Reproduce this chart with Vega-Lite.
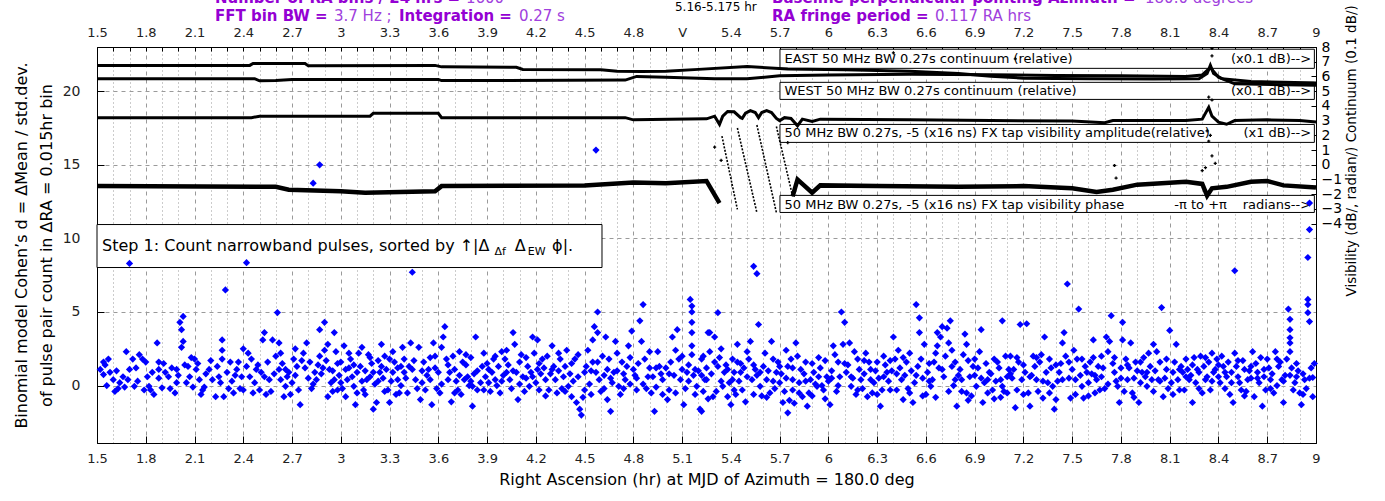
{
"$schema":"https://vega.github.io/schema/vega-lite/v6.json",
"width":1219,"height":396,
"autosize":{"type":"none"},
"padding":{"left":97,"top":47,"right":69,"bottom":58},
"background":"white",
"config":{"view":{"stroke":"#000","strokeWidth":1},"font":"DejaVu Sans","axis":{"labelFont":"DejaVu Sans","titleFont":"DejaVu Sans","domainColor":"#000","tickColor":"#000","labelColor":"#222","titleColor":"#000","titleFontWeight":"normal","labelFlush":false,"labelOverlap":false}},
"datasets":{
"blue":[{"x":1.54,"y":1.6},{"x":1.52,"y":1.1},{"x":1.54,"y":0.75},{"x":1.55,"y":1.4},{"x":1.56,"y":0},{"x":1.61,"y":-0.4},{"x":1.6,"y":0.4},{"x":1.64,"y":0.2},{"x":1.66,"y":0.6},{"x":1.67,"y":-0.1},{"x":1.68,"y":2.3},{"x":1.72,"y":1.8},{"x":1.7,"y":1.1},{"x":1.73,"y":-0.05},{"x":1.76,"y":2.1},{"x":1.78,"y":1.8},{"x":1.8,"y":1.6},{"x":1.81,"y":0.6},{"x":1.82,"y":-0.05},{"x":1.83,"y":-0.3},{"x":1.85,"y":-0.6},{"x":1.87,"y":2.9},{"x":1.88,"y":1.6},{"x":1.88,"y":1.1},{"x":1.88,"y":0.5},{"x":1.9,"y":-0.15},{"x":1.94,"y":0.6},{"x":1.96,"y":1.2},{"x":1.99,"y":1.1},{"x":1.99,"y":0.2},{"x":1.98,"y":-0.5},{"x":2.01,"y":4.3},{"x":2.03,"y":4.7},{"x":2.02,"y":3.8},{"x":2.03,"y":3.0},{"x":2.02,"y":2.6},{"x":2.04,"y":1.4},{"x":2.06,"y":1.3},{"x":2.07,"y":0.6},{"x":2.09,"y":-0.1},{"x":2.1,"y":1.8},{"x":2.11,"y":1.1},{"x":2.13,"y":0.4},{"x":2.14,"y":-0.6},{"x":2.15,"y":-0.3},{"x":2.19,"y":1.1},{"x":2.21,"y":0.4},{"x":2.23,"y":-0.75},{"x":2.25,"y":0.6},{"x":2.27,"y":3.1},{"x":2.27,"y":2.4},{"x":2.27,"y":1.8},{"x":2.28,"y":-0.75},{"x":2.29,"y":6.5},{"x":2.3,"y":0.9},{"x":2.32,"y":1.6},{"x":2.33,"y":0.3},{"x":2.34,"y":-0.5},{"x":2.36,"y":1.1},{"x":2.37,"y":1.6},{"x":2.39,"y":0.6},{"x":2.4,"y":-0.3},{"x":2.4,"y":2.5},{"x":2.42,"y":1.3},{"x":2.44,"y":0.6},{"x":2.47,"y":0.2},{"x":2.48,"y":1.1},{"x":2.5,"y":-0.3},{"x":2.53,"y":3.6},{"x":2.52,"y":3.1},{"x":2.53,"y":0.6},{"x":2.55,"y":1.6},{"x":2.56,"y":0.4},{"x":2.58,"y":3.1},{"x":2.61,"y":4.96},{"x":2.6,"y":2.0},{"x":2.62,"y":2.9},{"x":2.62,"y":1.1},{"x":2.63,"y":0.4},{"x":2.65,"y":-0.75},{"x":2.66,"y":-0.05},{"x":2.68,"y":0.9},{"x":2.69,"y":-0.6},{"x":2.71,"y":1.8},{"x":2.73,"y":1.3},{"x":2.74,"y":-0.3},{"x":2.75,"y":-1.3},
{"x":1.58,"y":0.9},{"x":1.63,"y":-0.2},{"x":1.75,"y":0.3},{"x":1.92,"y":0.9},{"x":2.05,"y":0.2},{"x":2.17,"y":0.8},{"x":2.24,"y":1.3},{"x":2.31,"y":-0.2},{"x":2.35,"y":0.7},{"x":2.45,"y":1.8},{"x":2.51,"y":0.9},{"x":2.57,"y":-0.4},{"x":2.64,"y":1.5},{"x":2.67,"y":0.6},{"x":2.7,"y":0.2},
{"x":1.57,"y":1.8},{"x":1.62,"y":1.0},{"x":1.69,"y":0.4},{"x":1.74,"y":1.2},{"x":1.79,"y":-0.3},{"x":1.84,"y":0.9},{"x":1.91,"y":1.5},{"x":1.95,"y":-0.2},{"x":2.0,"y":0.7},{"x":2.08,"y":1.9},{"x":2.12,"y":1.5},{"x":2.16,"y":-0.1},{"x":2.2,"y":1.7},{"x":2.26,"y":0.2},{"x":2.38,"y":-0.2},{"x":2.43,"y":2.2},{"x":2.46,"y":-0.5},{"x":2.49,"y":1.4},{"x":2.54,"y":-0.6},{"x":2.59,"y":0.8},{"x":2.63,"y":2.2},{"x":2.66,"y":1.1},{"x":2.72,"y":2.5},
{"x":2.77,"y":2.2},{"x":2.79,"y":2.9},{"x":2.81,"y":1.6},{"x":2.84,"y":0.9},{"x":2.85,"y":0.4},{"x":2.87,"y":3.8},{"x":2.87,"y":2.0},{"x":2.9,"y":2.4},{"x":2.9,"y":4.3},{"x":2.92,"y":-0.75},{"x":2.93,"y":1.1},{"x":2.96,"y":0.4},{"x":2.96,"y":3.6},{"x":2.98,"y":-0.3},{"x":3.0,"y":1.6},{"x":3.02,"y":2.7},{"x":3.03,"y":-0.75},{"x":3.04,"y":0.4},{"x":3.06,"y":1.8},{"x":3.08,"y":-0.05},{"x":3.09,"y":-1.3},{"x":3.1,"y":0.9},{"x":3.12,"y":1.3},{"x":3.14,"y":-0.3},{"x":3.16,"y":0.4},{"x":3.17,"y":2.1},{"x":3.2,"y":-1.6},{"x":3.22,"y":-1.15},{"x":3.24,"y":0.9},{"x":3.25,"y":2.8},{"x":3.27,"y":2.0},{"x":3.29,"y":-0.3},{"x":3.3,"y":-1.15},{"x":3.33,"y":1.6},{"x":3.35,"y":0.4},{"x":3.36,"y":-0.5},{"x":3.38,"y":2.6},{"x":3.39,"y":0.9},
{"x":2.78,"y":1.2},{"x":2.8,"y":0.5},{"x":2.82,"y":-0.2},{"x":2.86,"y":1.4},{"x":2.88,"y":0.8},{"x":2.91,"y":1.7},{"x":2.94,"y":0.2},{"x":2.95,"y":1.0},{"x":2.97,"y":2.3},{"x":2.99,"y":0.7},{"x":3.01,"y":-0.2},{"x":3.05,"y":1.2},{"x":3.07,"y":0.6},{"x":3.11,"y":2.2},{"x":3.13,"y":0.3},{"x":3.15,"y":1.0},{"x":3.18,"y":0.6},{"x":3.19,"y":1.5},{"x":3.21,"y":0.1},{"x":3.23,"y":1.7},{"x":3.26,"y":0.5},{"x":3.28,"y":1.1},{"x":3.31,"y":0.3},{"x":3.32,"y":0.9},{"x":3.34,"y":-0.6},{"x":3.37,"y":1.3},
{"x":2.72,"y":0.7},{"x":2.76,"y":1.7},{"x":2.83,"y":0.1},{"x":2.89,"y":1.2},{"x":2.92,"y":2.8},{"x":2.95,"y":-0.4},{"x":2.98,"y":1.5},{"x":3.0,"y":0.2},{"x":3.03,"y":1.1},{"x":3.05,"y":2.2},{"x":3.08,"y":1.4},{"x":3.1,"y":-0.5},{"x":3.13,"y":2.6},{"x":3.15,"y":-0.6},{"x":3.18,"y":1.9},{"x":3.2,"y":0.9},{"x":3.23,"y":0.3},{"x":3.25,"y":1.3},{"x":3.27,"y":-0.4},{"x":3.3,"y":1.8},{"x":3.32,"y":2.3},{"x":3.35,"y":1.2},{"x":3.37,"y":0.0},
{"x":2.87,"y":15.0},{"x":2.83,"y":13.75},{"x":1.7,"y":8.3},{"x":2.42,"y":8.35},{"x":3.44,"y":7.7},{"x":4.57,"y":16.0},{"x":5.54,"y":8.1},{"x":5.56,"y":7.6},{"x":8.5,"y":7.8},{"x":8.96,"y":12.4},{"x":8.96,"y":10.6},{"x":8.95,"y":8.7},
{"x":3.39,"y":1.8},{"x":3.41,"y":-0.5},{"x":3.43,"y":2.9},{"x":3.44,"y":1.1},{"x":3.46,"y":0.4},{"x":3.48,"y":2.6},{"x":3.49,"y":-0.95},{"x":3.51,"y":1.6},{"x":3.52,"y":-0.3},{"x":3.54,"y":1.1},{"x":3.56,"y":-1.3},{"x":3.57,"y":2.9},{"x":3.58,"y":2.0},{"x":3.6,"y":0.9},{"x":3.61,"y":-0.5},{"x":3.62,"y":2.6},{"x":3.63,"y":3.3},{"x":3.64,"y":4.0},{"x":3.65,"y":1.8},{"x":3.66,"y":0.4},{"x":3.68,"y":-1.1},{"x":3.7,"y":1.1},{"x":3.72,"y":-0.3},{"x":3.73,"y":2.3},{"x":3.75,"y":1.6},{"x":3.76,"y":0.4},{"x":3.78,"y":0.6},{"x":3.81,"y":-0.05},{"x":3.81,"y":-1.4},{"x":3.83,"y":3.3},{"x":3.84,"y":-0.3},{"x":3.87,"y":1.3},{"x":3.88,"y":2.2},{"x":3.89,"y":0.6},{"x":3.91,"y":0.2},{"x":3.93,"y":0.9},{"x":3.95,"y":0.4},{"x":3.97,"y":1.3},{"x":3.98,"y":-0.5},{"x":3.99,"y":2.3},{"x":4.01,"y":1.8},{"x":4.02,"y":0.9},{"x":4.04,"y":0.4},{"x":4.06,"y":3.6},{"x":4.07,"y":2.8},{"x":4.09,"y":-0.95},{"x":4.1,"y":1.6},{"x":4.12,"y":0.6},{"x":4.15,"y":1.3},{"x":4.16,"y":-0.05},{"x":4.18,"y":3.3},{"x":4.19,"y":2.2},{"x":4.21,"y":3.1},{"x":4.21,"y":1.1},{"x":4.24,"y":1.8},{"x":4.26,"y":0.4},{"x":4.28,"y":-0.3},{"x":4.3,"y":2.7},{"x":4.31,"y":1.3},{"x":4.33,"y":-0.5},{"x":4.35,"y":1.8},{"x":4.37,"y":0.6},{"x":4.39,"y":2.4},{"x":4.4,"y":-0.05},{"x":4.42,"y":-0.75},{"x":4.44,"y":1.8},{"x":4.45,"y":-1.15},{"x":4.47,"y":-1.6},{"x":4.48,"y":-2.0},{"x":4.5,"y":0.9},{"x":4.52,"y":2.4},{"x":4.55,"y":1.6},{"x":4.55,"y":3.1},{"x":4.56,"y":4.0},{"x":4.58,"y":5.0},{"x":4.58,"y":3.6},{"x":4.59,"y":0.4},{"x":4.61,"y":2.0},{"x":4.63,"y":3.3},{"x":4.64,"y":1.1},{"x":4.64,"y":-0.95},{"x":4.66,"y":-1.75},{"x":4.68,"y":0.9},{"x":4.69,"y":3.0},{"x":4.71,"y":-0.05},{"x":4.73,"y":1.6},{"x":4.75,"y":0.4},{"x":4.77,"y":2.7},{"x":4.79,"y":3.7},{"x":4.8,"y":1.1},{"x":4.82,"y":-0.3},{"x":4.84,"y":4.4},{"x":4.85,"y":3.0},{"x":4.86,"y":5.5},{"x":4.87,"y":1.8},{"x":4.89,"y":0.6},{"x":4.91,"y":-0.5},{"x":4.93,"y":-1.75},{"x":4.95,"y":2.3},{"x":4.96,"y":1.3},{"x":4.98,"y":0.4},{"x":5.01,"y":-0.95},{"x":5.03,"y":1.6},{"x":5.04,"y":3.3},{"x":5.06,"y":2.4},{"x":5.07,"y":3.8},{"x":5.08,"y":1.8},{"x":5.09,"y":0.4},{"x":5.11,"y":-1.3},{"x":5.13,"y":0.9},{"x":5.15,"y":5.85},{"x":5.16,"y":5.4},{"x":5.16,"y":5.0},{"x":5.16,"y":4.3},{"x":5.16,"y":3.6},{"x":5.16,"y":2.7},{"x":5.16,"y":2.1},{"x":5.18,"y":1.1},{"x":5.19,"y":-0.05},{"x":5.21,"y":-1.6},{"x":5.22,"y":1.8},{"x":5.24,"y":0.4},{"x":5.26,"y":3.6},
{"x":3.4,"y":0.5},{"x":3.45,"y":1.7},{"x":3.5,"y":0.2},{"x":3.53,"y":0.7},{"x":3.55,"y":1.9},{"x":3.59,"y":-0.2},{"x":3.67,"y":0.9},{"x":3.69,"y":2.0},{"x":3.71,"y":0.3},{"x":3.74,"y":-0.6},{"x":3.77,"y":1.4},{"x":3.79,"y":0.0},{"x":3.8,"y":1.9},{"x":3.82,"y":0.8},{"x":3.86,"y":0.2},{"x":3.9,"y":1.5},{"x":3.92,"y":-0.4},{"x":3.94,"y":1.8},{"x":3.96,"y":0.0},{"x":4.0,"y":0.7},{"x":4.03,"y":1.4},{"x":4.05,"y":-0.2},{"x":4.08,"y":0.9},{"x":4.11,"y":2.1},{"x":4.13,"y":-0.4},{"x":4.14,"y":0.5},{"x":4.17,"y":0.9},{"x":4.2,"y":0.2},{"x":4.22,"y":-0.3},{"x":4.23,"y":0.8},{"x":4.25,"y":1.2},{"x":4.27,"y":2.0},{"x":4.29,"y":0.8},{"x":4.32,"y":0.4},{"x":4.34,"y":1.0},{"x":4.36,"y":-0.2},{"x":4.38,"y":1.3},{"x":4.41,"y":0.8},{"x":4.43,"y":0.3},{"x":4.46,"y":0.6},{"x":4.49,"y":-0.8},{"x":4.51,"y":1.3},{"x":4.53,"y":0.1},{"x":4.54,"y":-0.6},{"x":4.57,"y":0.9},{"x":4.6,"y":-0.4},{"x":4.62,"y":0.7},{"x":4.65,"y":1.8},{"x":4.67,"y":0.2},{"x":4.7,"y":1.0},{"x":4.72,"y":-0.6},{"x":4.74,"y":0.8},{"x":4.76,"y":1.3},{"x":4.78,"y":0.1},{"x":4.81,"y":0.7},{"x":4.83,"y":1.5},{"x":4.88,"y":-0.2},{"x":4.9,"y":1.2},{"x":4.92,"y":0.6},{"x":4.94,"y":-0.1},{"x":4.97,"y":0.8},{"x":5.0,"y":1.2},{"x":5.02,"y":-0.3},{"x":5.05,"y":0.7},{"x":5.1,"y":1.1},{"x":5.12,"y":-0.2},{"x":5.14,"y":0.3},{"x":5.17,"y":0.7},{"x":5.2,"y":1.0},{"x":5.23,"y":-0.4},{"x":5.25,"y":1.2},
{"x":3.42,"y":1.3},{"x":3.47,"y":-0.2},{"x":3.5,"y":1.0},{"x":3.55,"y":0.4},{"x":3.58,"y":1.2},{"x":3.62,"y":0.1},{"x":3.66,"y":1.4},{"x":3.7,"y":-0.5},{"x":3.73,"y":0.7},{"x":3.77,"y":2.1},{"x":3.8,"y":0.3},{"x":3.84,"y":1.0},{"x":3.88,"y":-0.3},{"x":3.91,"y":1.1},{"x":3.95,"y":2.0},{"x":3.99,"y":0.3},{"x":4.02,"y":2.4},{"x":4.06,"y":1.0},{"x":4.1,"y":0.1},{"x":4.14,"y":1.9},{"x":4.18,"y":0.6},{"x":4.22,"y":1.5},{"x":4.26,"y":-0.7},{"x":4.3,"y":1.1},{"x":4.34,"y":2.2},{"x":4.38,"y":-0.4},{"x":4.42,"y":1.5},{"x":4.46,"y":2.1},{"x":4.5,"y":-0.3},{"x":4.54,"y":1.0},{"x":4.58,"y":1.6},{"x":4.62,"y":-0.2},{"x":4.66,"y":0.5},{"x":4.7,"y":2.2},{"x":4.74,"y":-0.2},{"x":4.78,"y":1.9},{"x":4.82,"y":0.5},{"x":4.86,"y":0.1},{"x":4.9,"y":2.3},{"x":4.94,"y":1.2},{"x":4.98,"y":-0.6},{"x":5.02,"y":0.8},{"x":5.06,"y":-0.5},{"x":5.1,"y":2.0},{"x":5.14,"y":1.4},{"x":5.18,"y":-0.6},{"x":5.22,"y":0.7},
{"x":5.22,"y":-1.75},{"x":5.23,"y":2.0},{"x":5.25,"y":0.4},{"x":5.27,"y":2.3},{"x":5.27,"y":3.6},{"x":5.29,"y":-0.75},{"x":5.3,"y":3.3},{"x":5.32,"y":4.95},{"x":5.32,"y":1.3},{"x":5.35,"y":-0.05},{"x":5.36,"y":0.9},{"x":5.38,"y":-0.75},{"x":5.41,"y":1.8},{"x":5.41,"y":0.4},{"x":5.44,"y":1.6},{"x":5.44,"y":2.8},{"x":5.46,"y":0.9},{"x":5.47,"y":-0.3},{"x":5.49,"y":-1.1},{"x":5.5,"y":2.3},{"x":5.51,"y":1.8},{"x":5.52,"y":3.0},{"x":5.53,"y":0.4},{"x":5.55,"y":1.1},{"x":5.57,"y":4.15},{"x":5.58,"y":-0.05},{"x":5.6,"y":1.3},{"x":5.62,"y":0.4},{"x":5.64,"y":-0.5},{"x":5.65,"y":3.0},{"x":5.66,"y":1.8},{"x":5.68,"y":0.9},{"x":5.7,"y":0.2},{"x":5.72,"y":-1.15},{"x":5.75,"y":1.3},{"x":5.75,"y":-1.85},{"x":5.78,"y":-0.3},{"x":5.78,"y":0.4},{"x":5.8,"y":2.9},{"x":5.81,"y":2.0},{"x":5.83,"y":1.1},{"x":5.84,"y":-0.75},{"x":5.87,"y":-1.4},{"x":5.89,"y":0.4},{"x":5.91,"y":0.9},{"x":5.93,"y":-0.05},{"x":5.95,"y":1.2},{"x":5.97,"y":-0.3},{"x":5.99,"y":0.6},{"x":6.01,"y":-1.3},{"x":6.03,"y":2.7},{"x":6.04,"y":2.1},{"x":6.06,"y":1.6},{"x":6.08,"y":5.0},{"x":6.09,"y":2.8},{"x":6.1,"y":4.3},{"x":6.11,"y":0.9},{"x":6.13,"y":2.9},{"x":6.14,"y":-0.05},{"x":6.16,"y":2.3},{"x":6.18,"y":1.8},{"x":6.2,"y":0.4},{"x":6.23,"y":2.2},{"x":6.24,"y":-0.75},{"x":6.26,"y":1.1},{"x":6.28,"y":0.2},{"x":6.3,"y":1.6},{"x":6.32,"y":-1.4},{"x":6.34,"y":2.0},{"x":6.36,"y":0.9},{"x":6.38,"y":-0.3},{"x":6.4,"y":3.3},{"x":6.41,"y":1.8},{"x":6.43,"y":2.4},{"x":6.45,"y":0.4},{"x":6.46,"y":-0.95},{"x":6.48,"y":1.6},{"x":6.5,"y":2.2},{"x":6.52,"y":-1.15},{"x":6.54,"y":5.5},{"x":6.56,"y":4.6},{"x":6.56,"y":3.6},{"x":6.57,"y":1.8},{"x":6.59,"y":2.8},{"x":6.61,"y":0.9},{"x":6.63,"y":-0.05},{"x":6.65,"y":1.6},{"x":6.67,"y":3.6},{"x":6.67,"y":2.7},{"x":6.69,"y":3.3},{"x":6.7,"y":4.0},{"x":6.73,"y":3.9},{"x":6.74,"y":2.9},{"x":6.75,"y":4.4},{"x":6.76,"y":2.4},{"x":6.76,"y":1.3},{"x":6.78,"y":0.4},{"x":6.79,"y":-1.4},{"x":6.81,"y":1.1},{"x":6.83,"y":2.1},{"x":6.84,"y":3.5},{"x":6.85,"y":2.8},{"x":6.85,"y":-0.5},{"x":6.87,"y":0.6},{"x":6.89,"y":1.3},{"x":6.91,"y":-0.05},{"x":6.93,"y":2.3},{"x":6.94,"y":3.8},{"x":6.95,"y":-1.15},{"x":6.98,"y":0.4},{"x":6.99,"y":0.9},{"x":7.01,"y":-0.3},{"x":7.04,"y":1.6},{"x":7.06,"y":0.4},{"x":7.07,"y":4.4},{"x":7.09,"y":2.0},{"x":7.11,"y":1.1},
{"x":5.28,"y":0.8},{"x":5.31,"y":-0.4},{"x":5.33,"y":1.9},{"x":5.34,"y":0.3},{"x":5.37,"y":1.4},{"x":5.39,"y":0.2},{"x":5.4,"y":-1.3},{"x":5.42,"y":0.9},{"x":5.43,"y":-0.6},{"x":5.45,"y":0.3},{"x":5.48,"y":1.2},{"x":5.54,"y":-0.6},{"x":5.56,"y":0.7},{"x":5.59,"y":-0.7},{"x":5.61,"y":2.2},{"x":5.63,"y":1.0},{"x":5.67,"y":-0.2},{"x":5.69,"y":1.6},{"x":5.71,"y":0.8},{"x":5.73,"y":-0.4},{"x":5.74,"y":0.5},{"x":5.76,"y":-1.0},{"x":5.77,"y":1.8},{"x":5.79,"y":-1.2},{"x":5.82,"y":0.2},{"x":5.85,"y":0.8},{"x":5.86,"y":1.6},{"x":5.88,"y":-0.5},{"x":5.9,"y":1.5},{"x":5.92,"y":0.1},{"x":5.94,"y":0.6},{"x":5.96,"y":0.0},{"x":5.98,"y":1.7},{"x":6.0,"y":0.3},{"x":6.02,"y":1.0},{"x":6.05,"y":-0.4},{"x":6.07,"y":0.6},{"x":6.12,"y":1.4},{"x":6.15,"y":0.5},{"x":6.17,"y":-0.6},{"x":6.19,"y":1.1},{"x":6.21,"y":-0.2},{"x":6.22,"y":0.8},{"x":6.25,"y":1.6},{"x":6.27,"y":-0.5},{"x":6.29,"y":1.0},{"x":6.31,"y":0.5},{"x":6.33,"y":-0.3},{"x":6.35,"y":1.4},{"x":6.37,"y":0.3},{"x":6.39,"y":1.0},{"x":6.42,"y":-0.3},{"x":6.44,"y":1.2},{"x":6.47,"y":0.7},{"x":6.49,"y":-0.2},{"x":6.51,"y":1.0},{"x":6.53,"y":0.2},{"x":6.55,"y":1.3},{"x":6.58,"y":0.5},{"x":6.6,"y":-0.6},{"x":6.62,"y":1.5},{"x":6.64,"y":0.4},{"x":6.66,"y":-0.8},{"x":6.68,"y":1.2},{"x":6.71,"y":0.6},{"x":6.72,"y":2.0},{"x":6.77,"y":0.0},{"x":6.8,"y":0.7},{"x":6.82,"y":-0.4},{"x":6.86,"y":1.7},{"x":6.88,"y":-0.7},{"x":6.9,"y":0.7},{"x":6.92,"y":1.2},{"x":6.96,"y":0.2},{"x":6.97,"y":1.5},{"x":7.0,"y":0.8},{"x":7.02,"y":-0.9},{"x":7.03,"y":0.3},{"x":7.05,"y":1.2},{"x":7.08,"y":-0.4},{"x":7.1,"y":0.6},
{"x":5.26,"y":-0.9},{"x":5.3,"y":1.6},{"x":5.34,"y":2.5},{"x":5.38,"y":1.1},{"x":5.42,"y":-0.3},{"x":5.46,"y":1.5},{"x":5.5,"y":0.6},{"x":5.54,"y":1.4},{"x":5.58,"y":0.9},{"x":5.62,"y":-0.8},{"x":5.66,"y":0.3},{"x":5.7,"y":1.3},{"x":5.74,"y":2.4},{"x":5.78,"y":1.2},{"x":5.82,"y":-0.5},{"x":5.86,"y":0.3},{"x":5.9,"y":-0.7},{"x":5.94,"y":1.9},{"x":5.98,"y":-0.9},{"x":6.02,"y":0.5},{"x":6.06,"y":0.0},{"x":6.1,"y":1.5},{"x":6.14,"y":0.6},{"x":6.18,"y":-0.3},{"x":6.22,"y":1.7},{"x":6.26,"y":0.4},{"x":6.3,"y":-0.6},{"x":6.34,"y":0.6},{"x":6.38,"y":1.7},{"x":6.42,"y":0.8},{"x":6.46,"y":1.9},{"x":6.5,"y":-0.5},{"x":6.54,"y":0.7},{"x":6.58,"y":-0.7},{"x":6.62,"y":0.3},{"x":6.66,"y":2.2},{"x":6.7,"y":1.1},{"x":6.74,"y":-0.4},{"x":6.78,"y":1.6},{"x":6.82,"y":0.4},{"x":6.86,"y":-1.0},{"x":6.9,"y":1.8},{"x":6.94,"y":0.5},{"x":6.98,"y":-0.5},{"x":7.02,"y":1.8},{"x":7.06,"y":-0.8},
{"x":7.07,"y":-0.05},{"x":7.1,"y":-0.5},{"x":7.12,"y":2.0},{"x":7.14,"y":1.1},{"x":7.15,"y":-1.5},{"x":7.17,"y":1.6},{"x":7.18,"y":4.15},{"x":7.22,"y":4.2},{"x":7.19,"y":0.4},{"x":7.21,"y":0.9},{"x":7.23,"y":-0.5},{"x":7.24,"y":-1.4},{"x":7.26,"y":2.0},{"x":7.28,"y":0.4},{"x":7.3,"y":1.6},{"x":7.31,"y":2.1},{"x":7.32,"y":-0.85},{"x":7.33,"y":3.3},{"x":7.34,"y":0.9},{"x":7.36,"y":1.8},{"x":7.38,"y":-0.05},{"x":7.39,"y":-1.6},{"x":7.4,"y":-0.95},{"x":7.42,"y":0.9},{"x":7.44,"y":2.9},{"x":7.45,"y":3.6},{"x":7.46,"y":2.0},{"x":7.47,"y":6.9},{"x":7.49,"y":-0.85},{"x":7.5,"y":1.1},{"x":7.52,"y":0.4},{"x":7.53,"y":1.8},{"x":7.54,"y":5.2},{"x":7.56,"y":-0.05},{"x":7.57,"y":-0.85},{"x":7.59,"y":0.9},{"x":7.61,"y":1.6},{"x":7.63,"y":3.1},{"x":7.63,"y":1.9},{"x":7.65,"y":0.4},{"x":7.67,"y":-0.3},{"x":7.69,"y":1.2},{"x":7.71,"y":3.3},{"x":7.72,"y":2.3},{"x":7.73,"y":3.0},{"x":7.74,"y":4.75},{"x":7.76,"y":0.9},{"x":7.78,"y":-0.05},{"x":7.79,"y":-1.15},{"x":7.81,"y":4.3},{"x":7.81,"y":3.1},{"x":7.83,"y":1.8},{"x":7.84,"y":0.4},{"x":7.86,"y":2.9},{"x":7.87,"y":-0.5},{"x":7.89,"y":1.6},{"x":7.91,"y":-1.15},{"x":7.93,"y":0.9},{"x":7.94,"y":1.9},{"x":7.96,"y":-0.05},{"x":7.98,"y":1.3},{"x":8.0,"y":2.8},{"x":8.02,"y":2.3},{"x":8.03,"y":0.4},{"x":8.05,"y":5.3},{"x":8.06,"y":-0.75},{"x":8.08,"y":1.1},{"x":8.1,"y":3.75},{"x":8.11,"y":0.2},{"x":8.13,"y":1.6},{"x":8.14,"y":2.8},{"x":8.16,"y":-0.3},{"x":8.18,"y":0.9},{"x":8.2,"y":1.8},{"x":8.22,"y":0.4},{"x":8.24,"y":-1.15},{"x":8.27,"y":1.1},{"x":8.29,"y":2.0},{"x":8.3,"y":-0.5},{"x":8.32,"y":0.4},{"x":8.34,"y":1.6},{"x":8.36,"y":2.2},{"x":8.37,"y":0.9},{"x":8.39,"y":1.8},{"x":8.41,"y":0.2},{"x":8.43,"y":1.3},{"x":8.45,"y":0.6},{"x":8.47,"y":-0.6},{"x":8.49,"y":-1.15},{"x":8.5,"y":2.2},{"x":8.52,"y":0.6},{"x":8.54,"y":-0.3},{"x":8.56,"y":1.1},{"x":8.58,"y":0.4},{"x":8.61,"y":2.3},{"x":8.62,"y":-0.75},{"x":8.64,"y":0.9},{"x":8.67,"y":-1.4},{"x":8.7,"y":1.8},{"x":8.72,"y":0.4},{"x":8.74,"y":-0.5},{"x":8.75,"y":2.3},{"x":8.77,"y":1.3},{"x":8.79,"y":0.4},{"x":8.8,"y":-1.15},{"x":8.82,"y":1.8},{"x":8.83,"y":5.2},{"x":8.84,"y":4.5},{"x":8.84,"y":3.8},{"x":8.84,"y":3.25},{"x":8.84,"y":2.9},{"x":8.84,"y":2.3},{"x":8.86,"y":-0.3},{"x":8.88,"y":0.6},{"x":8.9,"y":-0.5},{"x":8.91,"y":-1.3},{"x":8.93,"y":0.4},{"x":8.95,"y":5.85},{"x":8.95,"y":5.5},{"x":8.95,"y":4.95},{"x":8.96,"y":4.35},{"x":8.97,"y":1.2},{"x":8.98,"y":0.55},{"x":8.98,"y":-0.75},
{"x":7.13,"y":0.5},{"x":7.16,"y":-0.3},{"x":7.2,"y":1.4},{"x":7.25,"y":0.7},{"x":7.27,"y":1.3},{"x":7.29,"y":-0.4},{"x":7.35,"y":0.2},{"x":7.37,"y":1.2},{"x":7.41,"y":0.3},{"x":7.43,"y":1.5},{"x":7.48,"y":0.5},{"x":7.51,"y":2.4},{"x":7.55,"y":0.7},{"x":7.58,"y":1.3},{"x":7.6,"y":0.2},{"x":7.62,"y":0.8},{"x":7.64,"y":-0.5},{"x":7.66,"y":1.3},{"x":7.68,"y":0.6},{"x":7.7,"y":-0.2},{"x":7.75,"y":1.5},{"x":7.77,"y":0.3},{"x":7.8,"y":1.2},{"x":7.82,"y":-0.4},{"x":7.85,"y":1.2},{"x":7.88,"y":0.5},{"x":7.9,"y":1.0},{"x":7.92,"y":0.2},{"x":7.95,"y":0.6},{"x":7.97,"y":2.2},{"x":7.99,"y":0.4},{"x":8.01,"y":1.0},{"x":8.04,"y":1.6},{"x":8.07,"y":0.5},{"x":8.09,"y":-0.2},{"x":8.12,"y":0.9},{"x":8.15,"y":0.4},{"x":8.17,"y":1.3},{"x":8.19,"y":-0.3},{"x":8.21,"y":1.1},{"x":8.23,"y":0.7},{"x":8.25,"y":1.9},{"x":8.26,"y":0.2},{"x":8.28,"y":-0.2},{"x":8.31,"y":1.3},{"x":8.33,"y":0.6},{"x":8.35,"y":-0.3},{"x":8.38,"y":1.1},{"x":8.4,"y":0.6},{"x":8.42,"y":2.0},{"x":8.44,"y":-0.2},{"x":8.46,"y":1.6},{"x":8.48,"y":0.9},{"x":8.51,"y":1.3},{"x":8.53,"y":0.2},{"x":8.55,"y":1.7},{"x":8.57,"y":-0.4},{"x":8.59,"y":1.0},{"x":8.6,"y":0.5},{"x":8.63,"y":1.5},{"x":8.65,"y":0.2},{"x":8.66,"y":1.9},{"x":8.68,"y":0.6},{"x":8.69,"y":-0.3},{"x":8.71,"y":1.2},{"x":8.73,"y":0.8},{"x":8.76,"y":0.0},{"x":8.78,"y":1.6},{"x":8.81,"y":0.7},{"x":8.85,"y":1.2},{"x":8.87,"y":0.2},{"x":8.89,"y":1.0},{"x":8.92,"y":0.8},{"x":8.94,"y":-0.2},{"x":8.99,"y":1.5},
{"x":7.12,"y":0.8},{"x":7.16,"y":1.9},{"x":7.2,"y":-0.6},{"x":7.24,"y":0.6},{"x":7.28,"y":1.9},{"x":7.32,"y":0.3},{"x":7.36,"y":-0.5},{"x":7.4,"y":1.4},{"x":7.44,"y":0.4},{"x":7.48,"y":1.6},{"x":7.52,"y":-0.6},{"x":7.56,"y":1.8},{"x":7.6,"y":-0.7},{"x":7.64,"y":0.7},{"x":7.68,"y":2.0},{"x":7.72,"y":0.1},{"x":7.76,"y":1.9},{"x":7.8,"y":0.5},{"x":7.84,"y":1.4},{"x":7.88,"y":-0.8},{"x":7.92,"y":1.6},{"x":7.96,"y":0.9},{"x":8.0,"y":-0.4},{"x":8.04,"y":0.3},{"x":8.08,"y":1.8},{"x":8.12,"y":-0.6},{"x":8.16,"y":1.1},{"x":8.2,"y":0.6},{"x":8.24,"y":1.4},{"x":8.28,"y":0.9},{"x":8.32,"y":1.9},{"x":8.36,"y":0.3},{"x":8.4,"y":1.4},{"x":8.44,"y":0.9},{"x":8.48,"y":0.2},{"x":8.52,"y":1.7},{"x":8.56,"y":-0.7},{"x":8.6,"y":1.3},{"x":8.64,"y":0.5},{"x":8.68,"y":1.1},{"x":8.72,"y":-0.2},{"x":8.76,"y":1.8},{"x":8.8,"y":0.3},{"x":8.84,"y":0.7},{"x":8.88,"y":1.5},{"x":8.92,"y":-0.6},{"x":8.96,"y":0.5}],
"cur":[{"s":"E","x":1.5,"y":21.75},{"s":"E","x":2.44,"y":21.75},{"s":"E","x":2.46,"y":21.88},{"s":"E","x":2.78,"y":21.88},{"s":"E","x":2.8,"y":21.72},{"s":"E","x":3.58,"y":21.75},{"s":"E","x":3.62,"y":21.65},{"s":"E","x":4.08,"y":21.62},{"s":"E","x":4.12,"y":21.47},{"s":"E","x":4.6,"y":21.45},{"s":"E","x":4.7,"y":21.36},{"s":"E","x":4.85,"y":21.33},{"s":"E","x":5.0,"y":21.35},{"s":"E","x":5.2,"y":21.48},{"s":"E","x":5.5,"y":21.68},{"s":"E","x":5.75,"y":21.5},{"s":"E","x":6.1,"y":21.45},{"s":"E","x":6.5,"y":21.35},{"s":"E","x":6.8,"y":21.2},{"s":"E","x":7.0,"y":21.02},{"s":"E","x":7.2,"y":20.88},{"s":"E","x":7.6,"y":20.85},{"s":"E","x":8.0,"y":20.82},{"s":"E","x":8.28,"y":20.85},{"s":"E","x":8.33,"y":21.2},{"s":"E","x":8.35,"y":21.75},{"s":"E","x":8.37,"y":21.2},{"s":"E","x":8.42,"y":20.85},{"s":"E","x":8.6,"y":20.65},{"s":"E","x":8.8,"y":20.6},{"s":"E","x":9.0,"y":20.55},
{"s":"W","x":1.5,"y":20.85},{"s":"W","x":2.47,"y":20.85},{"s":"W","x":2.5,"y":20.7},{"s":"W","x":2.6,"y":20.72},{"s":"W","x":2.7,"y":20.8},{"s":"W","x":3.6,"y":20.8},{"s":"W","x":3.62,"y":20.72},{"s":"W","x":4.75,"y":20.75},{"s":"W","x":4.82,"y":21.0},{"s":"W","x":5.0,"y":20.95},{"s":"W","x":5.3,"y":20.85},{"s":"W","x":5.5,"y":20.84},{"s":"W","x":5.7,"y":21.05},{"s":"W","x":6.0,"y":21.1},{"s":"W","x":6.5,"y":21.15},{"s":"W","x":7.0,"y":21.12},{"s":"W","x":7.4,"y":21.07},{"s":"W","x":7.8,"y":21.05},{"s":"W","x":8.2,"y":21.0},{"s":"W","x":8.3,"y":21.1},{"s":"W","x":8.35,"y":21.6},{"s":"W","x":8.4,"y":20.95},{"s":"W","x":8.5,"y":20.5},{"s":"W","x":9.0,"y":20.4},
{"s":"A","x":1.5,"y":18.2},{"s":"A","x":2.45,"y":18.2},{"s":"A","x":2.5,"y":18.3},{"s":"A","x":3.18,"y":18.3},{"s":"A","x":3.2,"y":18.5},{"s":"A","x":3.6,"y":18.5},{"s":"A","x":3.62,"y":18.2},{"s":"A","x":4.75,"y":18.2},{"s":"A","x":4.8,"y":18.05},{"s":"A","x":5.25,"y":18.12},{"s":"A","x":5.3,"y":18.3},{"s":"A","x":5.33,"y":17.75},{"s":"A","x":5.35,"y":18.3},{"s":"A","x":5.38,"y":18.62},{"s":"A","x":5.42,"y":18.6},{"s":"A","x":5.46,"y":18.2},{"s":"A","x":5.47,"y":18.15},{"s":"A","x":5.49,"y":18.5},{"s":"A","x":5.52,"y":18.68},{"s":"A","x":5.55,"y":18.55},{"s":"A","x":5.57,"y":18.2},{"s":"A","x":5.59,"y":18.55},{"s":"A","x":5.62,"y":18.68},{"s":"A","x":5.65,"y":18.55},{"s":"A","x":5.68,"y":18.15},{"s":"A","x":5.7,"y":18.0},{"s":"A","x":5.73,"y":18.2},{"s":"A","x":5.77,"y":18.15},{"s":"A","x":5.81,"y":17.65},{"s":"A","x":5.84,"y":18.1},{"s":"A","x":5.9,"y":17.95},{"s":"A","x":5.95,"y":18.1},{"s":"A","x":6.5,"y":18.05},{"s":"A","x":7.0,"y":18.0},{"s":"A","x":7.5,"y":17.98},{"s":"A","x":7.7,"y":17.85},{"s":"A","x":7.75,"y":18.0},{"s":"A","x":8.2,"y":18.0},{"s":"A","x":8.3,"y":18.1},{"s":"A","x":8.34,"y":18.9},{"s":"A","x":8.36,"y":18.3},{"s":"A","x":8.4,"y":17.9},{"s":"A","x":8.45,"y":17.75},{"s":"A","x":8.5,"y":18.0},{"s":"A","x":8.7,"y":18.05},{"s":"A","x":8.9,"y":18.0},{"s":"A","x":9.0,"y":17.9}],
"ph":[{"s":"P1","x":1.5,"y":13.55},{"s":"P1","x":2.6,"y":13.5},{"s":"P1","x":2.68,"y":13.3},{"s":"P1","x":3.0,"y":13.2},{"s":"P1","x":3.15,"y":13.1},{"s":"P1","x":3.58,"y":13.2},{"s":"P1","x":3.62,"y":13.55},{"s":"P1","x":4.5,"y":13.6},{"s":"P1","x":4.8,"y":13.8},{"s":"P1","x":5.0,"y":13.75},{"s":"P1","x":5.25,"y":13.9},{"s":"P1","x":5.33,"y":12.4},
{"s":"P2","x":5.78,"y":12.85},{"s":"P2","x":5.81,"y":14.0},{"s":"P2","x":5.85,"y":13.6},{"s":"P2","x":5.9,"y":13.1},{"s":"P2","x":5.95,"y":13.6},{"s":"P2","x":6.3,"y":13.55},{"s":"P2","x":6.8,"y":13.5},{"s":"P2","x":7.2,"y":13.55},{"s":"P2","x":7.5,"y":13.4},{"s":"P2","x":7.65,"y":13.15},{"s":"P2","x":7.75,"y":13.3},{"s":"P2","x":7.9,"y":13.65},{"s":"P2","x":8.2,"y":13.85},{"s":"P2","x":8.3,"y":13.7},{"s":"P2","x":8.33,"y":12.9},{"s":"P2","x":8.36,"y":13.4},{"s":"P2","x":8.45,"y":13.5},{"s":"P2","x":8.6,"y":13.85},{"s":"P2","x":8.7,"y":13.9},{"s":"P2","x":8.8,"y":13.6},{"s":"P2","x":9.0,"y":13.45}],
"dg":[{"s":"d1","x":5.345,"y":16.95},{"s":"d1","x":5.44,"y":11.97},{"s":"d2","x":5.44,"y":17.5},{"s":"d2","x":5.56,"y":11.75},{"s":"d3","x":5.56,"y":17.7},{"s":"d3","x":5.68,"y":11.75},{"s":"d4","x":5.68,"y":17.6},{"s":"d4","x":5.78,"y":12.85}],
"sc":[{"x":8.36,"y":22.9},{"x":8.36,"y":22.4},{"x":8.34,"y":19.6},{"x":8.36,"y":19.4},{"x":8.33,"y":17.3},{"x":8.35,"y":17.0},{"x":8.34,"y":16.6},{"x":8.38,"y":15.1},{"x":8.36,"y":15.6},{"x":8.32,"y":14.8},{"x":8.3,"y":14.6},{"x":7.76,"y":14.95},{"x":7.77,"y":14.1},{"x":5.34,"y":15.3},{"x":5.3,"y":16.2},{"x":5.75,"y":16.5},{"x":7.15,"y":22.2},{"x":6.4,"y":22.6}],
"box":[{"x":5.702,"x2":8.99,"y":22.85,"y2":21.55},{"x":5.702,"x2":8.99,"y":20.6,"y2":19.44},{"x":5.702,"x2":8.99,"y":17.74,"y2":16.52},{"x":5.702,"x2":8.99,"y":12.92,"y2":11.76},{"x":1.5,"x2":4.607,"y":10.94,"y2":8.02}],
"bl":[{"x":5.73,"y":22.16,"t":"EAST 50 MHz BW 0.27s continuum (relative)"},{"x":5.73,"y":19.99,"t":"WEST 50 MHz BW 0.27s continuum (relative)"},{"x":5.73,"y":17.13,"t":"50 MHz BW 0.27s, -5 (x16 ns) FX tap visibility amplitude(relative)"},{"x":5.73,"y":12.3,"t":"50 MHz BW 0.27s, -5 (x16 ns) FX tap visibility phase"}],
"br":[{"x":8.97,"y":22.16,"t":"(x0.1 dB)-->"},{"x":8.97,"y":19.99,"t":"(x0.1 dB)-->"},{"x":8.97,"y":17.13,"t":"(x1 dB)-->"},{"x":8.97,"y":12.3,"t":"radians-->"}],
"bc":[{"x":8.29,"y":12.3,"t":"-π to +π"}],
"st":[{"x":1.531,"y":9.45,"t":"Step 1: Count narrowband pulses, sorted by ↑|Δ"},{"x":4.07,"y":9.45,"t":"Δ"},{"x":4.3,"y":9.45,"t":"ϕ|."}],
"ss":[{"x":3.945,"y":9.05,"t":"Δf"},{"x":4.15,"y":9.05,"t":"EW"}],
"hb":[{"x":2.226,"y":25.08,"t":"FFT bin BW ="},{"x":3.358,"y":25.08,"t":"Integration ="},{"x":5.653,"y":25.08,"t":"RA fringe period ="},{"x":2.226,"y":26.35,"t":"Number of RA bins / 24 hrs ="},{"x":5.653,"y":26.35,"t":"Baseline perpendicular pointing Azimuth ="}],
"hn":[{"x":2.958,"y":25.08,"t":"3.7 Hz ;"},{"x":4.096,"y":25.08,"t":"0.27 s"},{"x":6.656,"y":25.08,"t":"0.117 RA hrs"},{"x":3.77,"y":26.35,"t":"1600"},{"x":7.948,"y":26.35,"t":"180.0 degrees"}],
"hk":[{"x":5.056,"y":25.7,"t":"5.16-5.175 hr"}],
"rt":[{"x":9.222,"y":6.05,"t":"Visibility (dB/, radian/)    Continuum (0.1 dB/)"}],
"ax":[{"x":5,"r":0}]
},
"layer":[
{"encoding":{
 "x":{"field":"x","type":"quantitative","scale":{"domain":[1.5,9],"nice":false,"zero":false},
  "axis":{"orient":"bottom","values":[1.5,1.8,2.1,2.4,2.7,3,3.3,3.6,3.9,4.2,4.5,4.8,5.1,5.4,5.7,6,6.3,6.6,6.9,7.2,7.5,7.8,8.1,8.4,8.7,9],"format":".1~f","labelFontSize":13,"tickSize":-7,"labelPadding":16,"grid":true,"gridDash":[4,4],"gridColor":"#9a9a9a","gridOpacity":1,"title":"Right Ascension (hr) at MJD of Azimuth = 180.0 deg","titleFontSize":16,"titlePadding":6}},
 "y":{"field":"y","type":"quantitative","scale":{"domain":[-3.9,23],"nice":false,"zero":false},
  "axis":{"orient":"left","values":[0,5,10,15,20],"labelFontSize":14,"tickSize":-7,"labelPadding":24,"grid":true,"gridDash":[4,4],"gridColor":"#9a9a9a","gridOpacity":1,"title":["Binomial model Cohen’s d = ΔMean / std.dev.","of pulse pair count in ΔRA = 0.015hr bin"],"titleFontSize":16,"titleLineHeight":25,"titlePadding":8}}},
 "layer":[
  {"data":{"name":"box"},"mark":{"type":"rect","fill":"white","stroke":"black","strokeWidth":1},"encoding":{"x2":{"field":"x2"},"y2":{"field":"y2"}}},
  {"data":{"name":"bl"},"mark":{"type":"text","align":"left","baseline":"middle","fontSize":13,"color":"#000"},"encoding":{"text":{"field":"t"}}},
  {"data":{"name":"br"},"mark":{"type":"text","align":"right","baseline":"middle","fontSize":13,"color":"#000"},"encoding":{"text":{"field":"t"}}},
  {"data":{"name":"bc"},"mark":{"type":"text","align":"center","baseline":"middle","fontSize":13,"color":"#000"},"encoding":{"text":{"field":"t"}}},
  {"data":{"name":"blue"},"mark":{"type":"point","shape":"diamond","filled":true,"color":"#0000ff","opacity":1,"size":52}},
  {"data":{"name":"cur"},"mark":{"type":"line","color":"#000","strokeWidth":3},"encoding":{"detail":{"field":"s"}}},
  {"data":{"name":"ph"},"mark":{"type":"line","color":"#000","strokeWidth":4.5},"encoding":{"detail":{"field":"s"}}},
  {"data":{"name":"dg"},"mark":{"type":"line","color":"#000","strokeWidth":1.6,"strokeDash":[2,1.5]},"encoding":{"detail":{"field":"s"}}},
  {"data":{"name":"sc"},"mark":{"type":"point","shape":"cross","filled":true,"color":"#000","size":10,"opacity":1}},
  {"data":{"name":"st"},"mark":{"type":"text","align":"left","baseline":"middle","fontSize":16,"color":"#000"},"encoding":{"text":{"field":"t"}}},
  {"data":{"name":"ss"},"mark":{"type":"text","align":"left","baseline":"middle","fontSize":11,"color":"#000"},"encoding":{"text":{"field":"t"}}},
  {"data":{"name":"hb"},"mark":{"type":"text","align":"left","baseline":"middle","fontSize":15,"fontWeight":"bold","color":"#9400d3"},"encoding":{"text":{"field":"t"}}},
  {"data":{"name":"hn"},"mark":{"type":"text","align":"left","baseline":"middle","fontSize":15,"color":"#a040dd"},"encoding":{"text":{"field":"t"}}},
  {"data":{"name":"hk"},"mark":{"type":"text","align":"left","baseline":"middle","fontSize":12,"color":"#000"},"encoding":{"text":{"field":"t"}}},
  {"data":{"name":"rt"},"mark":{"type":"text","align":"left","baseline":"middle","fontSize":13.5,"angle":270,"color":"#000"},"encoding":{"text":{"field":"t"}}}
 ]},
{"data":{"name":"ax"},"mark":{"type":"point","opacity":0},
 "encoding":{
  "x":{"field":"x","type":"quantitative","scale":{"domain":[1.5,9],"nice":false,"zero":false},
   "axis":{"orient":"top","values":[1.5,1.6,1.7,1.8,1.9,2,2.1,2.2,2.3,2.4,2.5,2.6,2.7,2.8,2.9,3,3.1,3.2,3.3,3.4,3.5,3.6,3.7,3.8,3.9,4,4.1,4.2,4.3,4.4,4.5,4.6,4.7,4.8,4.9,5,5.1,5.2,5.3,5.4,5.5,5.6,5.7,5.8,5.9,6,6.1,6.2,6.3,6.4,6.5,6.6,6.7,6.8,6.9,7,7.1,7.2,7.3,7.4,7.5,7.6,7.7,7.8,7.9,8,8.1,8.2,8.3,8.4,8.5,8.6,8.7,8.8,8.9,9],
    "labelExpr":"abs(datum.value*10/3 - round(datum.value*10/3)) < 0.01 ? (abs(datum.value - 5.1) < 0.01 ? 'V' : format(datum.value, '.1~f')) : ''",
    "labelFontSize":13,"tickSize":-4,"labelPadding":12,"grid":true,"gridDash":[1,3],"gridColor":"#999",
    "gridOpacity":{"condition":{"test":"abs(datum.value*10/3 - round(datum.value*10/3)) < 0.01","value":0},"value":1},
    "title":null}},
  "y":{"field":"r","type":"quantitative","scale":{"domain":[-18.9,8],"nice":false,"zero":false},
   "axis":{"orient":"right","values":[-4,-3,-2,-1,0,1,2,3,4,5,6,7,8],"labelFontSize":14,"labelColor":"#000","tickSize":-5,"labelPadding":10,"grid":false,"title":null}}}}
],
"resolve":{"scale":{"y":"independent"},"axis":{"x":"independent"}}
}
